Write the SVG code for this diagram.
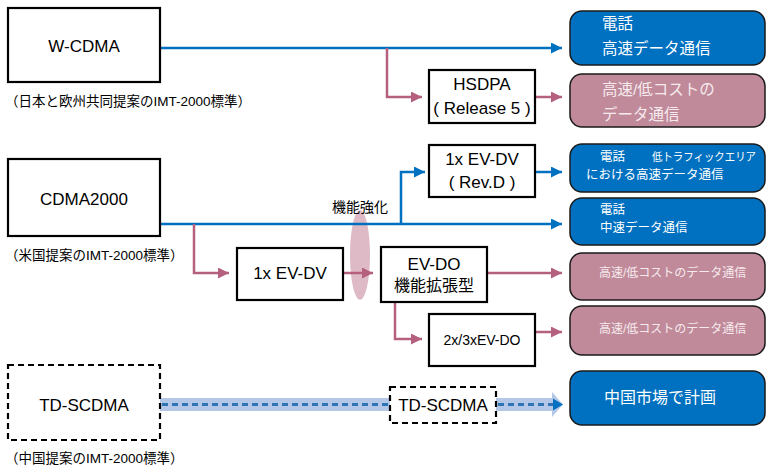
<svg xmlns="http://www.w3.org/2000/svg" width="766" height="467" viewBox="0 0 766 467">
<defs>
<style>
.box{fill:#fff;stroke:#000;stroke-width:2.2}
.dbox{fill:#fff;stroke:#000;stroke-width:2.2;stroke-dasharray:6 4}
.bbox{fill:#0070c0;stroke:#1a1a1a;stroke-width:1.5}
.pbox{fill:#c08a9a;stroke:#1a1a1a;stroke-width:1.5}
.t{font-family:"Liberation Sans","Noto Sans CJK JP",sans-serif;fill:#000;text-anchor:middle;dominant-baseline:central}
.lbl{font-family:"Liberation Sans","Noto Sans CJK JP",sans-serif;font-size:13.5px;fill:#000;dominant-baseline:central}
.w{font-family:"Liberation Sans","Noto Sans CJK JP",sans-serif;fill:#fff;dominant-baseline:central}
.wp{font-family:"Liberation Sans","Noto Sans CJK JP",sans-serif;fill:#f6eaee;dominant-baseline:central}
.blue{fill:none;stroke:#0070c0;stroke-width:2.5}
.pink{fill:none;stroke:#b4607e;stroke-width:2.5}
</style>
<marker id="ab" viewBox="0 0 10 10" refX="10" refY="5" markerWidth="4.4" markerHeight="4.4" markerUnits="strokeWidth" orient="auto"><path d="M0,0L10,5L0,10z" fill="#0070c0"/></marker>
<marker id="ap" viewBox="0 0 10 10" refX="10" refY="5" markerWidth="4.4" markerHeight="4.4" markerUnits="strokeWidth" orient="auto"><path d="M0,0L10,5L0,10z" fill="#b4607e"/></marker>
</defs>

<ellipse id="enhance-mark" cx="360" cy="255" rx="10" ry="45" fill="#d9b2bf" opacity="0.9"/>

<g id="connectors">
<path class="blue" d="M160,48H562" marker-end="url(#ab)"/>
<path class="pink" d="M387,48V97H422" marker-end="url(#ap)"/>
<path class="pink" d="M535,97H562" marker-end="url(#ap)"/>
<path class="blue" d="M160,224H562" marker-end="url(#ab)"/>
<path class="blue" d="M401,224V172H425" marker-end="url(#ab)"/>
<path class="blue" d="M535,172H562" marker-end="url(#ab)"/>
<path class="pink" d="M194,224V273H229" marker-end="url(#ap)"/>
<path class="pink" d="M343,273H373" marker-end="url(#ap)"/>
<path class="pink" d="M487,273H562" marker-end="url(#ap)"/>
<path class="pink" d="M395,302V339H422" marker-end="url(#ap)"/>
<path class="pink" d="M535,332H562" marker-end="url(#ap)"/>
<rect x="160" y="398" width="392" height="13" fill="#b4c7e7"/>
<path d="M552,398V392L563,404.5L552,417V411z" fill="#b4c7e7"/>
<path d="M162,404.5H390M498,404.5H556" fill="none" stroke="#2e75b6" stroke-width="3" stroke-dasharray="6 4"/>
<path d="M553,398.5L563,404.5L553,410.5z" fill="#0070c0"/>
</g>

<g id="wcdma">
<rect class="box" x="8" y="8" width="152" height="74"/>
<text class="t" x="84" y="46" font-size="17">W-CDMA</text>
<text class="lbl" x="5" y="101">（日本と欧州共同提案のIMT-2000標準）</text>
</g>

<g id="cdma2000">
<rect class="box" x="8" y="159" width="152" height="77"/>
<text class="t" x="84" y="199" font-size="17">CDMA2000</text>
<text class="lbl" x="5" y="255">（米国提案のIMT-2000標準）</text>
</g>

<g id="tdscdma">
<rect class="dbox" x="8" y="365" width="152" height="75"/>
<text class="t" x="84" y="405" font-size="17">TD-SCDMA</text>
<text class="lbl" x="5" y="458">（中国提案のIMT-2000標準）</text>
</g>

<g id="hsdpa">
<rect class="box" x="429" y="70" width="106" height="53"/>
<text class="t" x="482" y="84" font-size="17">HSDPA</text>
<text class="t" x="482" y="108" font-size="17">( Release 5 )</text>
</g>

<g id="evdv-revd">
<rect class="box" x="429" y="145" width="106" height="52"/>
<text class="t" x="482" y="159" font-size="17">1x EV-DV</text>
<text class="t" x="482" y="182" font-size="17">( Rev.D )</text>
</g>

<text class="t" x="360" y="207" font-size="14">機能強化</text>

<g id="evdv">
<rect class="box" x="237" y="248" width="106" height="52"/>
<text class="t" x="290" y="273" font-size="17">1x EV-DV</text>
</g>

<g id="evdo">
<rect class="box" x="381" y="247" width="106" height="55"/>
<text class="t" x="434" y="264" font-size="17">EV-DO</text>
<text class="t" x="434" y="285" font-size="16">機能拡張型</text>
</g>

<g id="evdo23">
<rect class="box" x="429" y="314" width="106" height="52"/>
<text class="t" x="482" y="340" font-size="14">2x/3xEV-DO</text>
</g>

<g id="td-small">
<rect class="dbox" x="390" y="387" width="106" height="36" stroke-width="1.8"/>
<text class="t" x="443" y="405" font-size="17">TD-SCDMA</text>
</g>

<g id="out-wcdma">
<rect class="bbox" x="570" y="11" width="195" height="54" rx="12"/>
<text class="w" x="602" y="23" font-size="15.5">電話</text>
<text class="w" x="602" y="48" font-size="15.5">高速データ通信</text>
</g>

<g id="out-hsdpa">
<rect class="pbox" x="570" y="74" width="195" height="53" rx="12"/>
<text class="wp" x="602" y="89" font-size="15.5">高速/低コストの</text>
<text class="wp" x="602" y="114" font-size="15.5">データ通信</text>
</g>

<g id="out-revd">
<rect class="bbox" x="570" y="144" width="195" height="48" rx="12"/>
<text class="w" x="600" y="157" font-size="12.5">電話</text>
<text class="w" x="652" y="157" font-size="11.5" textLength="104" lengthAdjust="spacingAndGlyphs">低トラフィックエリア</text>
<text class="w" x="586" y="175" font-size="12.5">における高速データ通信</text>
</g>

<g id="out-cdma">
<rect class="bbox" x="570" y="198" width="195" height="47" rx="12"/>
<text class="w" x="600" y="210" font-size="12.5">電話</text>
<text class="w" x="600" y="228" font-size="12.5">中速データ通信</text>
</g>

<g id="out-evdo">
<rect class="pbox" x="570" y="253" width="195" height="47" rx="12"/>
<text class="wp" x="599" y="273" font-size="12">高速/低コストのデータ通信</text>
</g>

<g id="out-evdo23">
<rect class="pbox" x="570" y="306" width="195" height="49" rx="12"/>
<text class="wp" x="599" y="329" font-size="12">高速/低コストのデータ通信</text>
</g>

<g id="out-td">
<rect class="bbox" x="570" y="371" width="195" height="54" rx="12"/>
<text class="w" x="660" y="397" font-size="16" text-anchor="middle">中国市場で計画</text>
</g>
</svg>
